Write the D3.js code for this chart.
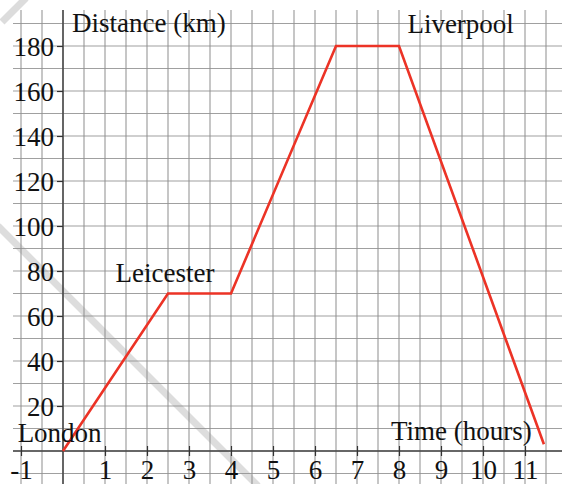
<!DOCTYPE html>
<html>
<head>
<meta charset="utf-8">
<script src="https://cdn.jsdelivr.net/npm/d3@7"></script>
<style>
  html, body { margin: 0; padding: 0; background: #fff; }
  svg { display: block; }
  text { font-family: "Liberation Serif", "DejaVu Serif", serif; fill: #111; }
</style>
</head>
<body>
<svg id="chart" width="568" height="484"></svg>
<script>
// ---- data ----
const timeHours   = [0, 2.5, 4, 6.5, 8, 11.45];
const distanceKm  = [0, 70, 70, 180, 180, 3];
const xTickValues = [-1, 1, 2, 3, 4, 5, 6, 7, 8, 9, 10, 11];
const yTickValues = [20, 40, 60, 80, 100, 120, 140, 160, 180];
const placeNames  = ["London", "Leicester", "Liverpool"];
const placeTimes  = [-1.08, 1.25, 8.2];
const placeDist   = [4, 75, 186];
const xTitle = "Time (hours)";
const yTitle = "Distance (km)";

const svg = d3.select("#chart");
const W = 568, H = 484;

const x = d3.scaleLinear().domain([0, 1]).range([63, 105]);
const y = d3.scaleLinear().domain([0, 180]).range([451, 46]);

const gridLeft = 13, gridRight = 562, gridTop = 10, gridBottom = H;

// decorative light stripes (scan artefacts)
svg.append("line").attr("x1", -2).attr("y1", 226).attr("x2", 258).attr("y2", 486)
  .attr("stroke", "#d9d9d9").attr("stroke-width", 7).attr("stroke-opacity", 0.9);
svg.append("line").attr("x1", 2).attr("y1", 22).attr("x2", 26).attr("y2", -2)
  .attr("stroke", "#dcdcdc").attr("stroke-width", 7);

// grid
const vGrid = d3.range(-1, 11.51, 0.5);
const hGrid = d3.range(-10, 190.1, 10);
const grid = svg.append("g");
grid.selectAll("line.v").data(vGrid).join("line")
  .attr("x1", d => x(d)).attr("x2", d => x(d))
  .attr("y1", gridTop).attr("y2", gridBottom)
  .attr("stroke", "#8f8f8f").attr("stroke-width", 1.2).attr("stroke-opacity", 0.85);
grid.selectAll("line.h").data(hGrid).join("line")
  .attr("x1", gridLeft).attr("x2", gridRight)
  .attr("y1", d => y(d)).attr("y2", d => y(d))
  .attr("stroke", "#8f8f8f").attr("stroke-width", 1.2).attr("stroke-opacity", 0.85);

// axes lines
svg.append("line").attr("x1", x(0)).attr("x2", x(0)).attr("y1", gridTop).attr("y2", gridBottom)
  .attr("stroke", "#444").attr("stroke-width", 1.5);
svg.append("line").attr("x1", gridLeft).attr("x2", gridRight).attr("y1", y(0)).attr("y2", y(0))
  .attr("stroke", "#444").attr("stroke-width", 1.5);

const fmt = d => (d < 0 ? "-" + Math.abs(d) : String(d));

// y axis
const yAxis = d3.axisLeft(y).tickValues(yTickValues).tickSize(6).tickPadding(3).tickFormat(fmt);
const gy = svg.append("g").attr("transform", `translate(${x(0)},0)`).call(yAxis);
gy.select(".domain").remove();
gy.selectAll(".tick line").attr("stroke", "#333").attr("stroke-width", 1.2);
gy.selectAll(".tick text").style("font-family", '"Liberation Serif", serif')
  .style("font-size", "27px").attr("fill", "#111").attr("dy", "0.34em");

// x axis
const xAxis = d3.axisBottom(x).tickValues(xTickValues).tickSize(5).tickPadding(6).tickFormat(fmt);
const gx = svg.append("g").attr("transform", `translate(0,${y(0)})`).call(xAxis);
gx.select(".domain").remove();
gx.selectAll(".tick line").attr("y1", -5).attr("stroke", "#333").attr("stroke-width", 1.2);
gx.selectAll(".tick text").style("font-family", '"Liberation Serif", serif')
  .style("font-size", "27px").attr("fill", "#111").attr("dy", "0.62em");

// journey line
const pts = timeHours.map((t, i) => [t, distanceKm[i]]);
svg.append("path").datum(pts)
  .attr("d", d3.line().x(d => x(d[0])).y(d => y(d[1])))
  .attr("fill", "none").attr("stroke", "#ec3326").attr("stroke-width", 2.6)
  .attr("stroke-linejoin", "miter");

// labels
const labels = svg.append("g").style("font-size", "27px");
labels.selectAll("text.place").data(placeNames).join("text")
  .attr("x", (d, i) => x(placeTimes[i]))
  .attr("y", (d, i) => y(placeDist[i]))
  .text(d => d);
labels.append("text").attr("x", 72).attr("y", 32).text(yTitle);
labels.append("text").attr("x", 391).attr("y", 440).text(xTitle);
</script>
</body>
</html>
